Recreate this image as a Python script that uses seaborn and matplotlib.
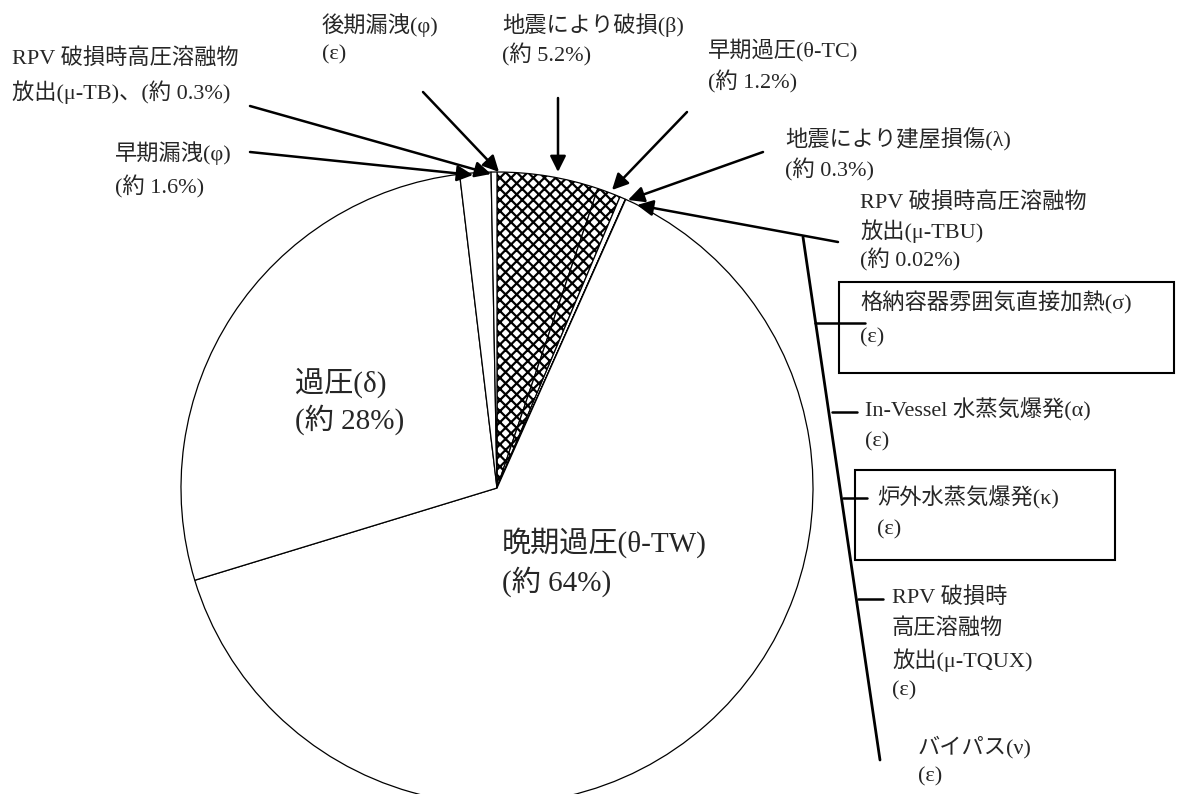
import matplotlib
matplotlib.use("Agg")
import matplotlib.pyplot as plt
import seaborn as sns
from matplotlib.lines import Line2D
from matplotlib.patches import Rectangle

# pie slices, clockwise from 12 o'clock (percent)
slice_names = ["地震により破損(β)", "早期過圧(θ-TC)", "地震により建屋損傷(λ)",
               "RPV破損時高圧溶融物放出(μ-TBU)", "晩期過圧(θ-TW)", "過圧(δ)",
               "早期漏洩(φ)", "RPV破損時高圧溶融物放出(μ-TB)"]
slice_pct = [5.2, 1.2, 0.3, 0.02, 64, 28, 1.6, 0.3]
hatched = ["地震により破損(β)", "早期過圧(θ-TC)"]

# text labels: lines, left x px, first-line centre y px, line step px
small_labels = [
    (["後期漏洩(φ)", "(ε)"], 322, 25, 30),
    (["RPV 破損時高圧溶融物", "放出(μ-TB)、(約 0.3%)"], 12, 58, 34),
    (["早期漏洩(φ)", "(約 1.6%)"], 115, 153, 34),
    (["地震により破損(β)", "(約 5.2%)"], 502, 25, 30),
    (["早期過圧(θ-TC)", "(約 1.2%)"], 708, 50, 32),
    (["地震により建屋損傷(λ)", "(約 0.3%)"], 785, 140, 30),
    (["RPV 破損時高圧溶融物", "放出(μ-TBU)", "(約 0.02%)"], 860, 202, 29),
    (["格納容器雰囲気直接加熱(σ)", "(ε)"], 860, 303, 35),
    (["In-Vessel 水蒸気爆発(α)", "(ε)"], 865, 410, 32),
    (["炉外水蒸気爆発(κ)", "(ε)"], 877, 498, 32),
    (["RPV 破損時", "高圧溶融物", "放出(μ-TQUX)", "(ε)"], 892, 598, 31),
    (["バイパス(ν)", "(ε)"], 918, 747, 30),
]
big_labels = [
    (["過圧(δ)", "(約 28%)"], 295, 383, 37),
    (["晩期過圧(θ-TW)", "(約 64%)"], 502, 543, 39),
]

# leader arrows (tail px, tip px)
arrows = [
    ((423, 92), (499, 172)),
    ((250, 106), (491, 174)),
    ((250, 152), (473, 175)),
    ((558, 98), (558, 172)),
    ((687, 112), (612, 190)),
    ((763, 152), (628, 200)),
    ((838, 242), (637, 205)),
]
bracket = ((803, 237), (880, 760))
ticks = [(323, 815, 865), (412, 832, 857), (498, 843, 867), (599, 858, 883)]
boxes = [(839, 282, 1174, 373), (855, 470, 1115, 560)]

W, H = 1180, 794
cx, cy, r = 497, 488, 316

sns.set_style("white")
plt.rcParams['font.family'] = ['Liberation Serif', 'Noto Sans CJK JP']
plt.rcParams['hatch.linewidth'] = 1.6

fig = plt.figure(figsize=(W / 100, H / 100), dpi=100)
ax = fig.add_axes([0, 0, 1, 1])
wedges, _ = ax.pie(slice_pct, startangle=90, counterclock=False, radius=1,
                   wedgeprops=dict(facecolor='white', edgecolor='black', linewidth=0.9))
for w, name in zip(wedges, slice_names):
    if name in hatched:
        w.set_hatch('xxx')
ax.set_xlim(-cx / r, (W - cx) / r)
ax.set_ylim((cy - H) / r, cy / r)
ax.set_aspect('equal')
ax.axis('off')


def fx(x):
    return x / W


def fy(y):
    return 1 - y / H


for lines, x, y, step in small_labels:
    for i, t in enumerate(lines):
        fig.text(fx(x), fy(y + i * step), t, fontsize=16, va='center', ha='left')
for lines, x, y, step in big_labels:
    for i, t in enumerate(lines):
        fig.text(fx(x), fy(y + i * step), t, fontsize=21, va='center', ha='left')

for tail, tip in arrows:
    ax.annotate("", xy=(tip[0], H - tip[1]), xycoords='figure pixels',
                xytext=(tail[0], H - tail[1]), textcoords='figure pixels',
                arrowprops=dict(arrowstyle='-|>', color='black', lw=1.8,
                                mutation_scale=24, shrinkA=0, shrinkB=0))

(x0, y0), (x1, y1) = bracket
fig.add_artist(Line2D([fx(x0), fx(x1)], [fy(y0), fy(y1)], color='black', lw=2))
for y, xa, xb in ticks:
    fig.add_artist(Line2D([fx(xa), fx(xb)], [fy(y), fy(y)], color='black', lw=1.8))
for bx0, by0, bx1, by1 in boxes:
    fig.add_artist(Rectangle((fx(bx0), fy(by1)), fx(bx1) - fx(bx0), fy(by0) - fy(by1),
                             fill=False, edgecolor='black', lw=1.5,
                             transform=fig.transFigure))

fig.savefig("out.png", dpi=100)
